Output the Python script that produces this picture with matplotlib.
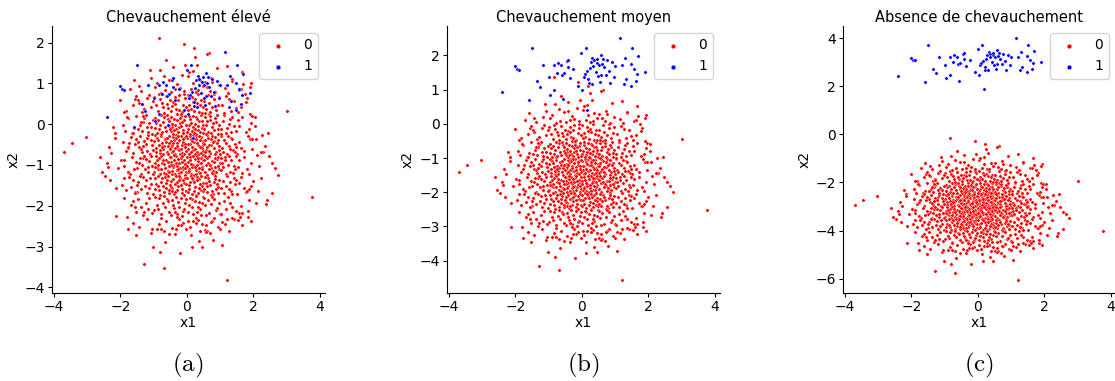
import numpy as np
import matplotlib.pyplot as plt

titles = ["Chevauchement élevé", "Chevauchement moyen", "Absence de chevauchement"]
captions = ["(a)", "(b)", "(c)"]
# distance of each class centre from x2 = 0 (class 0 below, class 1 above)
class_sep = [0.75, 1.5, 3.0]

# class 0 points: x1, and x2 relative to the class centre
red_pts = np.array([
    # x > 0, dy > 0
    (0.31, 0.07), (0.12, 0.38), (0.44, 0.22), (0.03, 0.15), (0.27, 0.46), (0.18, 0.11),
    (0.49, 0.34), (0.08, 0.27), (0.36, 0.02), (0.22, 0.31), (0.41, 0.43), (0.14, 0.19),
    (0.01, 0.41), (0.33, 0.24), (0.47, 0.09), (0.25, 0.14), (0.06, 0.03), (0.39, 0.36),
    (0.19, 0.48), (0.29, 0.29), (0.45, 0.16), (0.11, 0.07), (0.35, 0.45), (0.04, 0.26),
    (0.23, 0.01), (0.42, 0.05), (0.16, 0.33), (0.38, 0.18), (0.09, 0.47), (0.28, 0.39),
    (0.48, 0.28),
    (0.57, 0.12), (0.83, 0.33), (0.71, 0.04), (0.96, 0.21), (0.64, 0.41), (0.88, 0.08),
    (0.52, 0.27), (0.77, 0.46), (0.93, 0.37), (0.61, 0.19), (0.74, 0.25), (0.99, 0.02),
    (0.86, 0.44), (0.55, 0.35), (0.68, 0.09), (0.81, 0.16), (0.91, 0.29), (0.59, 0.48),
    (0.72, 0.38), (0.97, 0.11), (0.66, 0.23), (0.84, 0.01), (0.53, 0.06), (0.79, 0.31),
    (0.14, 0.58), (0.37, 0.83), (0.05, 0.72), (0.26, 0.51), (0.46, 0.66), (0.19, 0.94),
    (0.32, 0.61), (0.08, 0.87), (0.42, 0.97), (0.23, 0.76), (0.49, 0.54), (0.02, 0.63),
    (0.34, 0.71), (0.12, 0.79), (0.28, 0.92), (0.44, 0.82), (0.17, 0.67), (0.39, 0.56),
    (0.06, 0.96), (0.21, 0.53), (0.31, 0.88), (0.47, 0.74), (0.10, 0.52), (0.25, 0.64),
    (1.07, 0.16), (1.32, 0.42), (1.21, 0.03), (1.46, 0.27), (1.13, 0.35), (1.38, 0.11),
    (1.02, 0.47), (1.27, 0.22), (1.44, 0.06), (1.17, 0.29), (1.35, 0.38), (1.09, 0.08),
    (1.24, 0.45), (1.49, 0.18), (1.29, 0.13),
    (0.21, 1.07), (0.43, 1.33), (0.07, 1.22), (0.36, 1.04), (0.15, 1.41), (0.48, 1.16),
    (0.29, 1.27), (0.02, 1.46), (0.33, 1.49), (0.11, 1.13), (0.45, 1.02), (0.24, 1.36),
    (0.39, 1.21), (0.04, 1.09), (0.18, 1.29),
    (1.56, 0.31), (1.73, 0.09), (1.91, 0.38), (1.64, 0.17), (1.84, 0.46), (1.52, 0.02),
    (1.97, 0.14),
    (0.12, 1.61), (0.38, 1.83), (0.26, 1.54), (0.04, 1.92), (0.47, 1.68), (0.19, 1.77),
    (0.33, 1.58),
    (0.62, 0.57), (0.87, 0.81), (0.54, 0.93), (0.76, 0.68), (0.95, 0.52), (0.69, 0.86),
    (0.82, 0.61), (0.58, 0.74), (0.91, 0.97), (0.73, 0.53), (0.65, 0.99), (0.98, 0.73),
    (0.51, 0.62), (0.84, 0.89), (0.78, 0.77), (0.60, 0.83), (0.93, 0.64), (0.71, 0.95),
    (0.56, 0.51),
    (1.04, 0.63), (1.31, 0.88), (1.18, 0.54), (1.43, 0.71), (1.12, 0.97), (1.26, 0.76),
    (1.47, 0.58), (1.08, 0.82), (1.37, 0.93), (1.22, 0.66), (1.02, 0.51), (1.34, 0.57),
    (0.58, 1.12), (0.83, 1.37), (0.71, 1.04), (0.94, 1.23), (0.63, 1.46), (0.77, 1.18),
    (0.52, 1.31), (0.89, 1.09), (0.97, 1.42), (0.67, 1.26), (0.81, 1.49), (0.55, 1.02),
    (1.58, 0.71), (1.79, 0.56), (1.66, 0.93), (1.93, 0.79), (1.53, 0.84), (1.86, 0.62),
    (0.61, 1.66), (0.86, 1.53), (0.74, 1.88), (0.53, 1.79), (0.96, 1.71), (0.69, 1.57),
    (1.06, 1.21), (1.33, 1.08), (1.19, 1.44), (1.41, 1.31), (1.11, 1.03), (1.27, 1.36),
    (1.48, 1.14), (1.62, 1.17), (1.81, 1.39), (1.55, 1.04), (1.14, 1.63), (1.37, 1.81),
    (1.24, 1.52), (1.68, 1.74), (1.57, 1.59),
    # x < 0, dy > 0
    (-0.27, 0.13), (-0.08, 0.42), (-0.45, 0.06), (-0.16, 0.24), (-0.39, 0.37), (-0.02, 0.09),
    (-0.33, 0.48), (-0.21, 0.01), (-0.49, 0.19), (-0.11, 0.31), (-0.36, 0.16), (-0.05, 0.27),
    (-0.43, 0.44), (-0.24, 0.35), (-0.14, 0.05), (-0.31, 0.28), (-0.47, 0.33), (-0.19, 0.46),
    (-0.06, 0.18), (-0.41, 0.10), (-0.29, 0.21), (-0.12, 0.39), (-0.37, 0.02), (-0.03, 0.45),
    (-0.23, 0.11), (-0.46, 0.25), (-0.17, 0.15), (-0.34, 0.41), (-0.09, 0.03), (-0.26, 0.47),
    (-0.42, 0.29),
    (-0.58, 0.21), (-0.82, 0.04), (-0.67, 0.39), (-0.94, 0.17), (-0.53, 0.46), (-0.76, 0.28),
    (-0.89, 0.42), (-0.61, 0.08), (-0.98, 0.33), (-0.71, 0.13), (-0.56, 0.01), (-0.85, 0.24),
    (-0.64, 0.31), (-0.92, 0.07), (-0.79, 0.45), (-0.51, 0.15), (-0.73, 0.03), (-0.96, 0.48),
    (-0.68, 0.22), (-0.87, 0.36), (-0.60, 0.41), (-0.81, 0.11), (-0.54, 0.29), (-0.75, 0.19),
    (-0.13, 0.61), (-0.38, 0.87), (-0.04, 0.74), (-0.27, 0.55), (-0.46, 0.69), (-0.19, 0.96),
    (-0.33, 0.63), (-0.08, 0.84), (-0.42, 0.52), (-0.22, 0.78), (-0.49, 0.93), (-0.01, 0.57),
    (-0.35, 0.72), (-0.15, 0.81), (-0.29, 0.99), (-0.44, 0.76), (-0.11, 0.53), (-0.24, 0.67),
    (-0.06, 0.95), (-0.40, 0.60), (-0.31, 0.85), (-0.17, 0.70), (-0.47, 0.58), (-0.20, 0.89),
    (-1.06, 0.23), (-1.34, 0.07), (-1.19, 0.41), (-1.45, 0.19), (-1.12, 0.02), (-1.28, 0.34),
    (-1.41, 0.46), (-1.03, 0.12), (-1.23, 0.27), (-1.37, 0.14), (-1.16, 0.48), (-1.48, 0.31),
    (-1.09, 0.37), (-1.31, 0.22), (-1.21, 0.09),
    (-0.16, 1.04), (-0.41, 1.29), (-0.07, 1.38), (-0.32, 1.11), (-0.23, 1.47), (-0.48, 1.07),
    (-0.12, 1.23), (-0.37, 1.42), (-0.03, 1.16), (-0.27, 1.33), (-0.44, 1.19), (-0.19, 1.01),
    (-0.09, 1.49), (-0.35, 1.25), (-0.25, 1.09),
    (-1.57, 0.26), (-1.82, 0.09), (-1.69, 0.43), (-1.93, 0.31), (-1.61, 0.04), (-1.76, 0.17),
    (-1.53, 0.38),
    (-0.22, 1.64), (-0.43, 1.87), (-0.09, 1.57), (-0.31, 1.73), (-0.48, 1.55), (-0.14, 1.96),
    (-0.36, 1.62),
    (-0.63, 0.58), (-0.88, 0.84), (-0.55, 0.71), (-0.79, 0.52), (-0.97, 0.66), (-0.69, 0.93),
    (-0.84, 0.62), (-0.57, 0.87), (-0.92, 0.79), (-0.74, 0.56), (-0.61, 0.98), (-0.95, 0.91),
    (-0.52, 0.64), (-0.81, 0.74), (-0.71, 0.81), (-0.66, 0.68), (-0.89, 0.53), (-0.77, 0.97),
    (-0.53, 0.82),
    (-1.08, 0.67), (-1.29, 0.91), (-1.17, 0.55), (-1.42, 0.74), (-1.02, 0.86), (-1.36, 0.59),
    (-1.24, 0.97), (-1.13, 0.78), (-1.47, 0.63), (-1.33, 0.81), (-1.19, 0.69), (-1.05, 0.52),
    (-0.56, 1.14), (-0.81, 1.36), (-0.68, 1.02), (-0.93, 1.21), (-0.62, 1.44), (-0.76, 1.27),
    (-0.51, 1.33), (-0.87, 1.07), (-0.98, 1.41), (-0.72, 1.16), (-0.84, 1.48), (-0.59, 1.24),
    (-1.59, 0.66), (-1.77, 0.89), (-1.64, 0.54), (-1.91, 0.72), (-1.52, 0.96), (-1.86, 0.58),
    (-0.66, 1.59), (-0.89, 1.77), (-0.54, 1.84), (-0.78, 1.52), (-0.97, 1.66), (-0.70, 1.93),
    (-1.09, 1.18), (-1.36, 1.06), (-1.21, 1.39), (-1.44, 1.27), (-1.14, 1.47), (-1.29, 1.13),
    (-1.03, 1.32), (-1.63, 1.21), (-1.84, 1.08), (-1.56, 1.37), (-1.18, 1.71), (-1.39, 1.56),
    (-1.07, 1.88), (-1.71, 1.62), (-1.58, 1.83),
    # x < 0, dy < 0
    (-0.19, -0.08), (-0.42, -0.31), (-0.07, -0.22), (-0.34, -0.04), (-0.25, -0.45), (-0.48, -0.17),
    (-0.13, -0.36), (-0.38, -0.12), (-0.03, -0.41), (-0.29, -0.27), (-0.45, -0.48), (-0.16, -0.02),
    (-0.31, -0.38), (-0.09, -0.14), (-0.41, -0.24), (-0.22, -0.33), (-0.01, -0.06), (-0.36, -0.47),
    (-0.27, -0.11), (-0.47, -0.05), (-0.11, -0.29), (-0.33, -0.19), (-0.05, -0.49), (-0.24, -0.21),
    (-0.44, -0.39), (-0.18, -0.43), (-0.39, -0.01), (-0.14, -0.18), (-0.28, -0.35), (-0.06, -0.32),
    (-0.49, -0.26),
    (-0.62, -0.14), (-0.87, -0.36), (-0.55, -0.27), (-0.78, -0.03), (-0.96, -0.19), (-0.69, -0.44),
    (-0.83, -0.09), (-0.58, -0.39), (-0.91, -0.31), (-0.74, -0.21), (-0.52, -0.06), (-0.99, -0.42),
    (-0.66, -0.33), (-0.81, -0.48), (-0.71, -0.12), (-0.94, -0.02), (-0.57, -0.18), (-0.86, -0.25),
    (-0.64, -0.47), (-0.77, -0.35), (-0.53, -0.41), (-0.89, -0.13), (-0.68, -0.23), (-0.97, -0.29),
    (-0.21, -0.57), (-0.44, -0.82), (-0.08, -0.69), (-0.33, -0.53), (-0.16, -0.93), (-0.48, -0.64),
    (-0.27, -0.76), (-0.03, -0.88), (-0.39, -0.97), (-0.12, -0.61), (-0.36, -0.71), (-0.24, -0.51),
    (-0.46, -0.89), (-0.05, -0.56), (-0.29, -0.86), (-0.18, -0.74), (-0.41, -0.59), (-0.10, -0.98),
    (-0.31, -0.66), (-0.49, -0.78), (-0.14, -0.83), (-0.25, -0.63), (-0.37, -0.91), (-0.02, -0.72),
    (-1.04, -0.28), (-1.31, -0.09), (-1.18, -0.43), (-1.44, -0.21), (-1.09, -0.04), (-1.26, -0.36),
    (-1.39, -0.48), (-1.13, -0.16), (-1.49, -0.33), (-1.22, -0.11), (-1.35, -0.26), (-1.01, -0.46),
    (-1.28, -0.02), (-1.16, -0.31), (-1.42, -0.07),
    (-0.18, -1.06), (-0.39, -1.31), (-0.06, -1.19), (-0.29, -1.44), (-0.45, -1.12), (-0.12, -1.38),
    (-0.34, -1.03), (-0.23, -1.27), (-0.48, -1.47), (-0.02, -1.09), (-0.41, -1.22), (-0.15, -1.49),
    (-0.27, -1.16), (-0.09, -1.33), (-0.36, -1.41),
    (-1.54, -0.18), (-1.78, -0.41), (-1.66, -0.06), (-1.89, -0.27), (-1.59, -0.35), (-1.97, -0.12),
    (-1.72, -0.47),
    (-0.24, -1.58), (-0.46, -1.79), (-0.11, -1.67), (-0.35, -1.94), (-0.03, -1.83), (-0.29, -1.53),
    (-0.17, -1.72),
    (-0.59, -0.62), (-0.84, -0.87), (-0.67, -0.54), (-0.92, -0.71), (-0.55, -0.94), (-0.78, -0.66),
    (-0.96, -0.57), (-0.63, -0.81), (-0.81, -0.99), (-0.72, -0.76), (-0.51, -0.73), (-0.88, -0.53),
    (-0.69, -0.92), (-0.97, -0.84), (-0.57, -0.51), (-0.76, -0.58), (-0.86, -0.77), (-0.64, -0.69),
    (-0.53, -0.86),
    (-1.07, -0.71), (-1.32, -0.54), (-1.19, -0.93), (-1.46, -0.66), (-1.12, -0.58), (-1.38, -0.84),
    (-1.24, -0.62), (-1.03, -0.96), (-1.41, -0.52), (-1.27, -0.77), (-1.15, -0.82), (-1.49, -0.91),
    (-0.61, -1.09), (-0.86, -1.32), (-0.73, -1.18), (-0.95, -1.04), (-0.54, -1.41), (-0.79, -1.46),
    (-0.67, -1.27), (-0.91, -1.23), (-0.57, -1.14), (-0.83, -1.07), (-0.99, -1.36), (-0.70, -1.02),
    (-1.61, -0.63), (-1.83, -0.86), (-1.56, -0.92), (-1.74, -0.55), (-1.95, -0.74), (-1.68, -0.79),
    (-0.63, -1.62), (-0.91, -1.81), (-0.77, -1.54), (-0.55, -1.93), (-0.84, -1.69), (-0.69, -1.86),
    (-1.13, -1.06), (-1.37, -1.29), (-1.22, -1.17), (-1.46, -1.08), (-1.04, -1.42), (-1.31, -1.48),
    (-1.18, -1.34), (-1.67, -1.23), (-1.88, -1.07), (-1.54, -1.41), (-1.21, -1.57), (-1.43, -1.76),
    (-1.08, -1.91), (-1.62, -1.66), (-1.79, -1.52),
    # x > 0, dy < 0
    (0.23, -0.11), (0.06, -0.34), (0.41, -0.07), (0.17, -0.26), (0.35, -0.43), (0.02, -0.18),
    (0.29, -0.02), (0.46, -0.29), (0.12, -0.47), (0.38, -0.21), (0.08, -0.05), (0.26, -0.38),
    (0.49, -0.12), (0.15, -0.31), (0.33, -0.16), (0.04, -0.42), (0.44, -0.36), (0.21, -0.49),
    (0.31, -0.24), (0.10, -0.13), (0.47, -0.01), (0.19, -0.03), (0.37, -0.32), (0.01, -0.27),
    (0.27, -0.46), (0.43, -0.19), (0.13, -0.22), (0.34, -0.08), (0.07, -0.39), (0.24, -0.30),
    (0.40, -0.44),
    (0.61, -0.07), (0.86, -0.29), (0.53, -0.41), (0.75, -0.16), (0.97, -0.36), (0.68, -0.02),
    (0.91, -0.11), (0.57, -0.24), (0.82, -0.47), (0.72, -0.33), (0.95, -0.05), (0.64, -0.19),
    (0.79, -0.39), (0.51, -0.14), (0.88, -0.43), (0.70, -0.26), (0.99, -0.21), (0.59, -0.49),
    (0.84, -0.09), (0.66, -0.35), (0.93, -0.27), (0.55, -0.03), (0.77, -0.45), (0.81, -0.18),
    (0.18, -0.61), (0.42, -0.86), (0.05, -0.73), (0.29, -0.54), (0.14, -0.97), (0.47, -0.68),
    (0.24, -0.79), (0.02, -0.91), (0.37, -0.59), (0.11, -0.52), (0.33, -0.94), (0.45, -0.77),
    (0.21, -0.66), (0.07, -0.84), (0.39, -0.72), (0.27, -0.99), (0.16, -0.56), (0.49, -0.89),
    (0.31, -0.63), (0.09, -0.67), (0.43, -0.53), (0.22, -0.88), (0.35, -0.81), (0.01, -0.58),
    (1.06, -0.19), (1.29, -0.41), (1.14, -0.06), (1.42, -0.28), (1.02, -0.37), (1.33, -0.13),
    (1.19, -0.47), (1.47, -0.04), (1.24, -0.24), (1.09, -0.31), (1.38, -0.45), (1.16, -0.14),
    (1.45, -0.35), (1.27, -0.02), (1.03, -0.08),
    (0.14, -1.09), (0.38, -1.34), (0.06, -1.23), (0.27, -1.02), (0.46, -1.18), (0.19, -1.45),
    (0.33, -1.27), (0.02, -1.39), (0.42, -1.48), (0.23, -1.14), (0.09, -1.06), (0.31, -1.41),
    (0.48, -1.03), (0.16, -1.29), (0.36, -1.16),
    (1.58, -0.12), (1.81, -0.34), (1.67, -0.44), (1.94, -0.21), (1.53, -0.29), (1.73, -0.06),
    (1.88, -0.47),
    (0.17, -1.63), (0.39, -1.87), (0.08, -1.76), (0.28, -1.54), (0.46, -1.69), (0.12, -1.96),
    (0.34, -1.59),
    (0.63, -0.57), (0.88, -0.83), (0.56, -0.69), (0.79, -0.96), (0.97, -0.61), (0.71, -0.74),
    (0.84, -0.52), (0.59, -0.91), (0.93, -0.78), (0.67, -0.64), (0.52, -0.84), (0.81, -0.67),
    (0.75, -0.89), (0.95, -0.93), (0.61, -0.77), (0.86, -0.59), (0.54, -0.55), (0.73, -0.98),
    (0.90, -0.71),
    (1.08, -0.64), (1.34, -0.88), (1.21, -0.53), (1.46, -0.72), (1.12, -0.94), (1.29, -0.67),
    (1.04, -0.81), (1.41, -0.57), (1.17, -0.76), (1.37, -0.97), (1.26, -0.85), (1.49, -0.62),
    (0.62, -1.11), (0.87, -1.36), (0.54, -1.24), (0.76, -1.03), (0.96, -1.19), (0.68, -1.43),
    (0.83, -1.08), (0.58, -1.47), (0.91, -1.31), (0.72, -1.21), (0.51, -1.06), (0.99, -1.44),
    (1.56, -0.68), (1.79, -0.91), (1.64, -0.54), (1.92, -0.77), (1.71, -0.82), (1.52, -0.96),
    (0.58, -1.71), (0.83, -1.56), (0.69, -1.92), (0.94, -1.78), (0.53, -1.84), (0.77, -1.63),
    (1.11, -1.13), (1.36, -1.27), (1.23, -1.04), (1.47, -1.38), (1.04, -1.46), (1.29, -1.19),
    (1.18, -1.32), (1.63, -1.26), (1.86, -1.12), (1.58, -1.43), (1.16, -1.69), (1.42, -1.58),
    (1.27, -1.86), (1.66, -1.73), (1.54, -1.61),
    # outer points
    (2.18, -0.27), (2.34, 0.21), (2.06, 0.71), (2.23, -0.58), (2.47, -0.04), (-2.08, -0.33),
    (-2.21, 0.67), (-2.12, -0.81), (-2.33, 0.19), (-2.46, -0.52), (0.31, 2.21), (-0.42, 2.14),
    (0.14, -2.27), (-0.21, -2.41), (0.78, -2.08), (-1.12, 2.07), (1.21, 2.17), (-1.52, -1.96),
    (1.92, -1.62), (-2.02, 1.34),
    (-0.83, 2.86), (-0.10, 2.72), (0.20, 2.61), (0.24, 2.40), (0.65, 2.50), (0.59, 2.47),
    (-0.63, 2.31), (-0.06, 2.19), (0.17, 2.06), (0.07, 2.03), (-0.81, 2.08), (0.92, 2.12),
    (1.65, 2.03), (1.93, 1.75), (1.90, 1.67), (-1.45, 1.68), (1.64, 1.60), (1.74, 1.50),
    (-1.53, 1.43), (-1.48, 1.33), (1.35, 1.85), (0.75, 1.78), (-1.88, 1.04), (-1.81, 0.92),
    (1.90, 0.99), (1.97, 0.94), (2.04, 0.92), (3.00, 1.07), (-3.04, 0.43), (-3.46, 0.29),
    (-3.69, 0.08), (-2.60, -0.06), (-2.56, -0.42), (-2.15, 0.53), (-2.17, 0.42), (-2.40, -0.19),
    (-2.30, -0.63), (-2.13, -1.51), (-1.78, -1.83), (-1.30, -2.67), (-1.01, -2.25), (-0.80, -2.39),
    (-0.66, -2.14), (-0.68, -2.78), (-1.06, -1.81), (-0.78, -1.81), (-0.33, -1.83), (-0.26, -1.72),
    (0.37, -2.11), (0.45, -2.25), (0.60, -1.86), (0.99, -1.83), (1.07, -2.22), (1.20, -3.08),
    (1.22, -1.58), (2.07, -1.17), (2.40, -1.10), (2.39, -1.21), (2.57, -0.93), (2.75, -0.49),
    (2.57, -0.21), (2.65, -0.32), (2.45, 0.53), (2.27, 0.49), (2.09, 0.39), (2.29, 0.06),
    (2.22, 0.07), (3.77, -1.03), (1.67, -1.42), (1.60, -1.53), (1.80, -0.89), (1.87, -0.83),
    (2.00, -0.65), (-1.63, -1.14), (-1.56, -1.28), (-1.55, -0.93), (-1.51, -0.75), (-1.28, -1.39),
    (-1.90, -0.56), (-1.88, -0.14), (-1.78, 0.18), (-1.63, 0.53), (-1.73, 0.29), (-1.38, 0.81),
    (-1.31, 0.94), (-1.28, 1.11), (-2.28, 0.04), (-2.36, -0.30), (1.78, 1.29), (1.96, 0.38),
    (2.11, -0.01), (2.13, -0.89), (1.83, -1.52), (1.84, -1.38), (0.03, -1.62), (0.27, -1.66),
    (0.57, -1.90), (0.73, -1.65), (1.06, -1.65), (1.36, -1.54),
])

# class 1 points: x1, and x2 relative to the class centre
blue_pts = np.array([
    (-2.40, -0.57), (-1.96, 0.11), (-2.00, 0.18), (-1.88, 0.08), (-1.50, 0.71), (-1.60, -0.81),
    (-1.35, -0.26), (-1.25, -0.43), (-1.16, 0.21), (-0.96, -0.67), (-0.98, -0.12), (-0.83, -0.51),
    (-0.85, 0.22), (-0.71, 0.29), (-0.63, 0.22), (-0.60, -0.06), (-0.53, -0.01), (-0.56, -0.78),
    (-0.46, 0.33), (-0.42, 0.38), (-0.43, 0.15), (-0.35, -0.15), (-0.10, -0.40), (-0.01, 0.57),
    (0.02, -0.51), (0.12, 0.71), (0.07, -0.12), (0.10, -0.03), (0.17, -1.10), (0.20, -0.20),
    (0.22, -0.31), (0.24, 0.13), (0.27, 0.32), (0.30, -0.33), (0.32, 0.43), (0.37, 0.36),
    (0.42, 0.01), (0.45, 0.29), (0.47, 0.40), (0.52, 0.22), (0.57, 0.50), (0.54, -0.29),
    (0.57, -0.06), (0.64, 0.40), (0.67, 0.15), (0.72, -0.06), (0.77, 0.36), (0.82, 0.04),
    (0.85, -0.31), (0.97, -0.12), (1.15, 1.01), (1.22, 0.22), (1.29, 0.43), (1.27, -0.33),
    (1.32, -0.19), (1.47, 0.25), (1.50, 0.71), (1.47, -0.40), (1.57, 0.11), (1.64, -0.26),
    (1.70, 0.47), (1.67, -0.03), (1.89, 0.01), (0.35, 0.20), (0.60, 0.25), (0.15, 0.05),
    (-0.25, 0.10), (0.90, 0.30), (0.50, -0.10), (1.00, 0.20), (-0.75, 0.00),
])

fig = plt.figure(figsize=(11.15, 3.81), dpi=100)
lefts = [0.0464, 0.4006, 0.7558]
width = 0.2448

for i in range(3):
    ax = fig.add_axes([lefts[i], 0.232, width, 0.70])
    ax.scatter(red_pts[:, 0], red_pts[:, 1] - class_sep[i], s=6, c='red',
               edgecolors='white', linewidths=0.3, label='0')
    ax.scatter(blue_pts[:, 0], blue_pts[:, 1] + class_sep[i], s=6, c='blue',
               edgecolors='white', linewidths=0.3, label='1')
    ax.spines[['top', 'right']].set_visible(False)
    ax.set_title(titles[i], fontsize=10.5, pad=3)
    ax.set_xlabel('x1', fontsize=10, labelpad=2)
    ax.set_ylabel('x2', fontsize=10, labelpad=3)
    ax.tick_params(labelsize=10, length=3, pad=2)
    ax.legend(loc='upper right', fontsize=10, markerscale=1.4)
    fig.text(lefts[i] + width / 2, 0.042, r'$\mathrm{' + captions[i] + '}$',
             ha='center', va='center', fontsize=18, math_fontfamily='cm')

fig.savefig('out.png', dpi=100)
